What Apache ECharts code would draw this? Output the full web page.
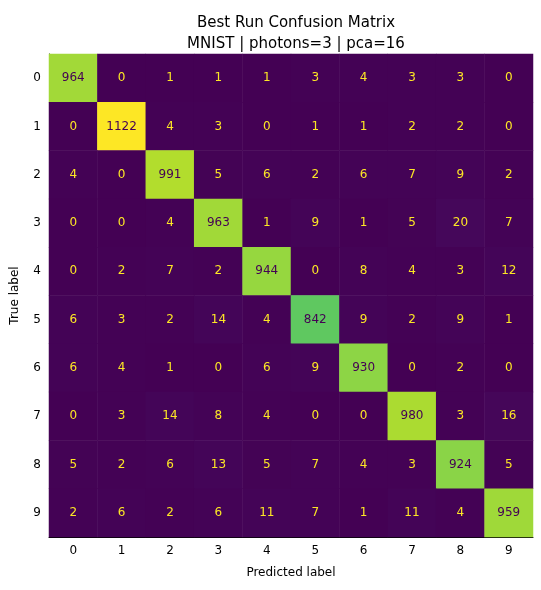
<!DOCTYPE html>
<html><head><meta charset="utf-8">
<script src="https://cdn.jsdelivr.net/npm/echarts@6/dist/echarts.min.js"></script>
<style>html,body{margin:0;padding:0;background:#fff}#c{width:541px;height:590px}</style>
</head><body><div id="c"></div>
<script>
const labels = ['0','1','2','3','4','5','6','7','8','9'];
const matrix = [
[964,0,1,1,1,3,4,3,3,0],
[0,1122,4,3,0,1,1,2,2,0],
[4,0,991,5,6,2,6,7,9,2],
[0,0,4,963,1,9,1,5,20,7],
[0,2,7,2,944,0,8,4,3,12],
[6,3,2,14,4,842,9,2,9,1],
[6,4,1,0,6,9,930,0,2,0],
[0,3,14,8,4,0,0,980,3,16],
[5,2,6,13,5,7,4,3,924,5],
[2,6,2,6,11,7,1,11,4,959]
];
const data = [];
let mx = 0;
matrix.forEach((r,i)=>r.forEach((v,j)=>{data.push([j,i,v]); if(v>mx) mx=v;}));
const viridis=['#440154','#482475','#414487','#355f8d','#2a788e','#21918c','#22a884','#44bf70','#7ad151','#bddf26','#fde725'];
const chart = echarts.init(document.getElementById('c'));
chart.setOption({
  animation:false,
  title:{text:'Best Run Confusion Matrix\nMNIST | photons=3 | pca=16',left:291,top:8,textAlign:'center',
    textStyle:{fontFamily:'DejaVu Sans',fontSize:15,fontWeight:'normal',color:'#000',lineHeight:21}},
  grid:{left:49,right:8,top:54,bottom:53},
  xAxis:{type:'category',data:labels,name:'Predicted label',nameLocation:'middle',nameGap:30,
    nameTextStyle:{fontFamily:'DejaVu Sans',fontSize:12,color:'#000'},
    axisLine:{lineStyle:{color:'#000'}},axisTick:{alignWithLabel:true,length:4,lineStyle:{color:'#000'}},
    axisLabel:{fontFamily:'DejaVu Sans',fontSize:12,color:'#000'},splitLine:{show:false}},
  yAxis:{type:'category',data:labels,inverse:true,name:'True label',nameLocation:'middle',nameGap:28,
    nameTextStyle:{fontFamily:'DejaVu Sans',fontSize:12,color:'#000'},
    axisLine:{lineStyle:{color:'#000'}},axisTick:{alignWithLabel:true,length:4,lineStyle:{color:'#000'}},
    axisLabel:{fontFamily:'DejaVu Sans',fontSize:12,color:'#000'},splitLine:{show:false}},
  visualMap:{show:false,min:0,max:mx,dimension:2,inRange:{color:viridis}},
  series:[{type:'heatmap',data:data,
    label:{show:true,fontFamily:'DejaVu Sans',fontSize:12,
      formatter:p=>String(p.value[2]),
      color:'#fde725'},
    labelLayout:null}]
});
// dark label for high values (matplotlib threshold at mid-range)
chart.setOption({series:[{data:data.map(d=>({value:d,label:{color:d[2]>mx/2?'#440154':'#fde725'}}))}]});
</script></body></html>
